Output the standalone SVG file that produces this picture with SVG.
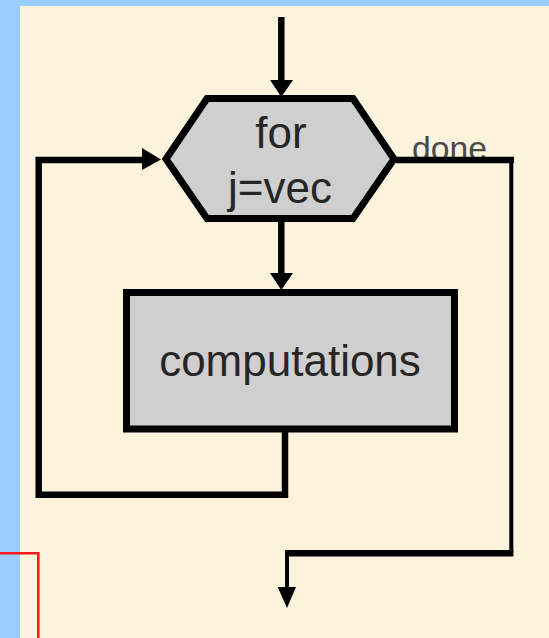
<svg xmlns="http://www.w3.org/2000/svg" width="549" height="638" viewBox="0 0 549 638">
  <style>
    .bg { fill: #99ccff; }
    .panel { fill: #fcf3dc; }
    .shape { fill: #cfcfcf; stroke: #000; stroke-width: 7; stroke-linejoin: miter; }
    .label { font-family: "Liberation Sans", Arial, sans-serif; font-size: 44px; fill: #262626; text-anchor: middle; }
    .small { font-family: "Liberation Sans", Arial, sans-serif; font-size: 33px; fill: #4a4a4a; }
    .wire { fill: none; stroke: #000; stroke-width: 6.5; stroke-linecap: butt; stroke-linejoin: miter; }
    .thin { fill: none; stroke: #000; stroke-width: 4; }
    .head { fill: #000; }
  </style>

  <!-- backdrop -->
  <rect class="bg" x="0" y="0" width="549" height="638"/>
  <rect class="panel" x="20" y="6" width="529" height="632"/>

  <!-- loop test -->
  <g id="for-node">
    <polygon class="shape" points="207,98.5 353,98.5 394,159 353,218.5 207,218.5 166,159"/>
    <text class="label" x="281" y="148">for</text>
    <text class="label" x="280" y="203">j=vec</text>
  </g>

  <!-- loop body -->
  <g id="body-node">
    <rect class="shape" x="126.5" y="292.5" width="328" height="136.5"/>
    <text class="label" x="290" y="376">computations</text>
  </g>

  <!-- exit label, partly under the exit wire -->
  <g id="done-label">
    <text class="small" x="412" y="160" textLength="75" lengthAdjust="spacingAndGlyphs">done</text>
  </g>

  <g id="connectors">
    <!-- entry -->
    <line class="wire" x1="281.3" y1="17" x2="281.3" y2="84"/>
    <polygon class="head" points="270,80 293,80 281.3,97"/>
    <!-- test to body -->
    <line class="wire" x1="281.3" y1="218" x2="281.3" y2="276"/>
    <polygon class="head" points="270,273 293,273 281.3,290"/>
    <!-- back edge -->
    <path class="wire" d="M285 429 V494.7 H38.7 V160 H146"/>
    <polygon class="head" points="142,148 142,170 161,159.5"/>
    <!-- exit -->
    <line class="wire" x1="396" y1="160" x2="514" y2="160"/>
    <line class="thin" x1="511.3" y1="157" x2="511.3" y2="556"/>
    <line class="wire" x1="285" y1="553.3" x2="513.3" y2="553.3"/>
    <line class="thin" x1="287" y1="550" x2="287" y2="592"/>
    <polygon class="head" points="277.7,587 296,587 287,608"/>
  </g>

  <!-- red frame corner -->
  <path d="M0 553.3 H38.3 V638" fill="none" stroke="#ff1a1a" stroke-width="2.6"/>
</svg>
